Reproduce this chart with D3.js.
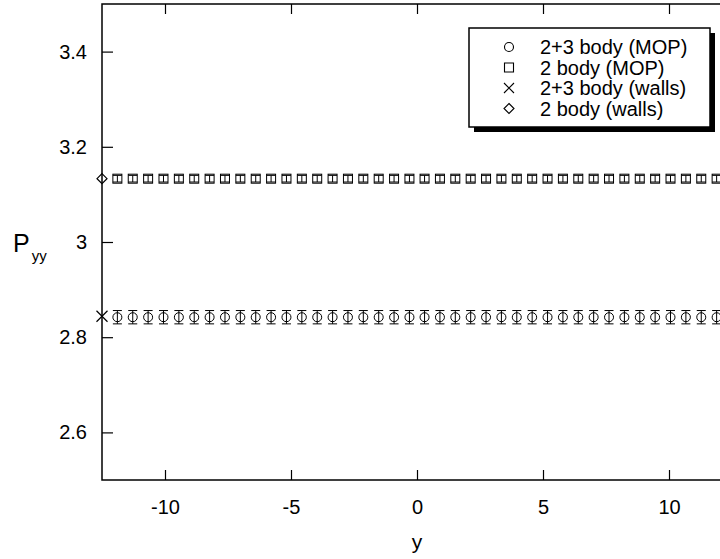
<!DOCTYPE html>
<html>
<head>
<meta charset="utf-8">
<script src="https://cdn.jsdelivr.net/npm/d3@7"></script>
<style>
  body { margin: 0; background: #fff; }
  svg { display: block; font-family: "Liberation Sans", Arial, sans-serif; }
</style>
</head>
<body>
<svg width="720" height="559"></svg>
<script>
// bin centres across the channel
const yPos = [-11.89, -11.28, -10.67, -10.06, -9.45, -8.84, -8.23, -7.62, -7.01, -6.40,
              -5.79, -5.18, -4.57, -3.96, -3.35, -2.74, -2.13, -1.52, -0.91, -0.30,
               0.30, 0.91, 1.52, 2.13, 2.74, 3.35, 3.96, 4.57, 5.18, 5.79,
               6.40, 7.01, 7.62, 8.23, 8.84, 9.45, 10.06, 10.67, 11.28, 11.89];

const pyy23Mop = [2.842, 2.842, 2.842, 2.842, 2.842, 2.842, 2.842, 2.842, 2.842, 2.842,
                  2.842, 2.842, 2.842, 2.842, 2.842, 2.842, 2.842, 2.842, 2.842, 2.842,
                  2.842, 2.842, 2.842, 2.842, 2.842, 2.842, 2.842, 2.842, 2.842, 2.842,
                  2.842, 2.842, 2.842, 2.842, 2.842, 2.842, 2.842, 2.842, 2.842, 2.842];
const pyy23MopErr = 0.014;

const pyy2Mop = [3.133, 3.133, 3.133, 3.133, 3.133, 3.133, 3.133, 3.133, 3.133, 3.133,
                 3.133, 3.133, 3.133, 3.133, 3.133, 3.133, 3.133, 3.133, 3.133, 3.133,
                 3.133, 3.133, 3.133, 3.133, 3.133, 3.133, 3.133, 3.133, 3.133, 3.133,
                 3.133, 3.133, 3.133, 3.133, 3.133, 3.133, 3.133, 3.133, 3.133, 3.133];
const pyy2MopErr = 0.007;

const wallPos = [-12.5, 12.5];
const pyy23Walls = [2.844, 2.844];
const pyy2Walls = [3.133, 3.133];

const xTicks = [-10, -5, 0, 5, 10];
const yTicks = [2.6, 2.8, 3, 3.2, 3.4];
const legendLabels = ["2+3 body (MOP)", "2 body (MOP)", "2+3 body (walls)", "2 body (walls)"];

const svg = d3.select("svg");
const margin = { left: 102, top: 4, bottom: 480 };

const x = d3.scaleLinear().domain([-12.5, 12.5]).range([margin.left, 732]);
const y = d3.scaleLinear().domain([2.5, 3.5]).range([margin.bottom, margin.top]);

// frame
svg.append("rect")
    .attr("x", x(-12.5)).attr("y", y(3.5))
    .attr("width", x(12.5) - x(-12.5)).attr("height", y(2.5) - y(3.5))
    .attr("fill", "none").attr("stroke", "#000").attr("stroke-width", 1.5);

// inward ticks
const bottomAxis = d3.axisBottom(x).tickValues(xTicks).tickSizeInner(-10).tickSizeOuter(0)
    .tickPadding(20).tickFormat(d3.format("d"));
const gx = svg.append("g").attr("transform", `translate(0,${y(2.5)})`).call(bottomAxis);
gx.select(".domain").remove();
gx.selectAll("text").attr("font-size", 20).attr("fill", "#000")
    .text(d => d < 0 ? "-" + Math.abs(d) : d);

const topAxis = d3.axisTop(x).tickValues(xTicks).tickSizeInner(-10).tickSizeOuter(0).tickFormat("");
const gt = svg.append("g").attr("transform", `translate(0,${y(3.5)})`).call(topAxis);
gt.select(".domain").remove();

const leftAxis = d3.axisLeft(y).tickValues(yTicks).tickSizeInner(-11).tickSizeOuter(0)
    .tickPadding(15).tickFormat(d => d === 3 ? "3" : d3.format(".1f")(d));
const gy = svg.append("g").attr("transform", `translate(${x(-12.5)},0)`).call(leftAxis);
gy.select(".domain").remove();
gy.selectAll("text").attr("font-size", 20).attr("fill", "#000");

svg.selectAll(".tick line").attr("stroke", "#000").attr("stroke-width", 1.2);

// axis titles
svg.append("text").attr("x", x(0)).attr("y", 549).attr("text-anchor", "middle")
    .attr("font-size", 21).text("y");
const pt = svg.append("text").attr("x", 13).attr("y", 252).attr("font-size", 25);
pt.append("tspan").text("P");
pt.append("tspan").attr("font-size", 15).attr("dy", 9).attr("dx", 2).text("yy");

// 2 body (MOP): squares with error bars
const sq = svg.append("g").attr("stroke", "#000").attr("fill", "none").attr("stroke-width", 1);
yPos.forEach((v, i) => {
    const cx = x(v), cy = y(pyy2Mop[i]);
    const hi = y(pyy2Mop[i] + pyy2MopErr), lo = y(pyy2Mop[i] - pyy2MopErr);
    sq.append("rect").attr("x", cx - 4.5).attr("y", cy - 4.5).attr("width", 9).attr("height", 9);
    sq.append("line").attr("x1", cx).attr("x2", cx).attr("y1", hi).attr("y2", lo);
    sq.append("line").attr("x1", cx - 4.5).attr("x2", cx + 4.5).attr("y1", hi).attr("y2", hi);
    sq.append("line").attr("x1", cx - 4.5).attr("x2", cx + 4.5).attr("y1", lo).attr("y2", lo);
});

// 2+3 body (MOP): circles with error bars
const ci = svg.append("g").attr("stroke", "#000").attr("fill", "none").attr("stroke-width", 1);
yPos.forEach((v, i) => {
    const cx = x(v), cy = y(pyy23Mop[i]);
    const hi = y(pyy23Mop[i] + pyy23MopErr), lo = y(pyy23Mop[i] - pyy23MopErr);
    ci.append("circle").attr("cx", cx).attr("cy", cy).attr("r", 4.5);
    ci.append("line").attr("x1", cx).attr("x2", cx).attr("y1", hi).attr("y2", lo);
    ci.append("line").attr("x1", cx - 4.5).attr("x2", cx + 4.5).attr("y1", hi).attr("y2", hi);
    ci.append("line").attr("x1", cx - 4.5).attr("x2", cx + 4.5).attr("y1", lo).attr("y2", lo);
});

// wall values
const diamond = (cx, cy, r) => `M${cx},${cy - r}L${cx + r},${cy}L${cx},${cy + r}L${cx - r},${cy}Z`;
const cross = (cx, cy, r) => `M${cx - r},${cy - r}L${cx + r},${cy + r}M${cx - r},${cy + r}L${cx + r},${cy - r}`;
const wl = svg.append("g").attr("stroke", "#000").attr("fill", "none").attr("stroke-width", 1.2);
wallPos.forEach((v, i) => {
    wl.append("path").attr("d", diamond(x(v), y(pyy2Walls[i]), 5));
    wl.append("path").attr("d", cross(x(v), y(pyy23Walls[i]), 5.5));
});

// legend
const lg = svg.append("g");
lg.append("rect").attr("x", 474).attr("y", 33).attr("width", 241).attr("height", 99).attr("fill", "#000");
lg.append("rect").attr("x", 469).attr("y", 28).attr("width", 241).attr("height", 99)
    .attr("fill", "#fff").attr("stroke", "#000").attr("stroke-width", 1.5);
const symbols = [
    (cx, cy) => `M${cx + 4.5},${cy}A4.5,4.5 0 1,1 ${cx - 4.5},${cy}A4.5,4.5 0 1,1 ${cx + 4.5},${cy}`,
    (cx, cy) => `M${cx - 4.5},${cy - 4.5}h9v9h-9Z`,
    (cx, cy) => cross(cx, cy, 5),
    (cx, cy) => diamond(cx, cy, 5)
];
legendLabels.forEach((label, i) => {
    const ry = 47 + i * 20.5;
    lg.append("path").attr("d", symbols[i](509, ry)).attr("fill", "none")
        .attr("stroke", "#000").attr("stroke-width", 1.1);
    lg.append("text").attr("x", 540).attr("y", ry).attr("dy", "0.35em")
        .attr("font-size", 20).text(label);
});
</script>
</body>
</html>
